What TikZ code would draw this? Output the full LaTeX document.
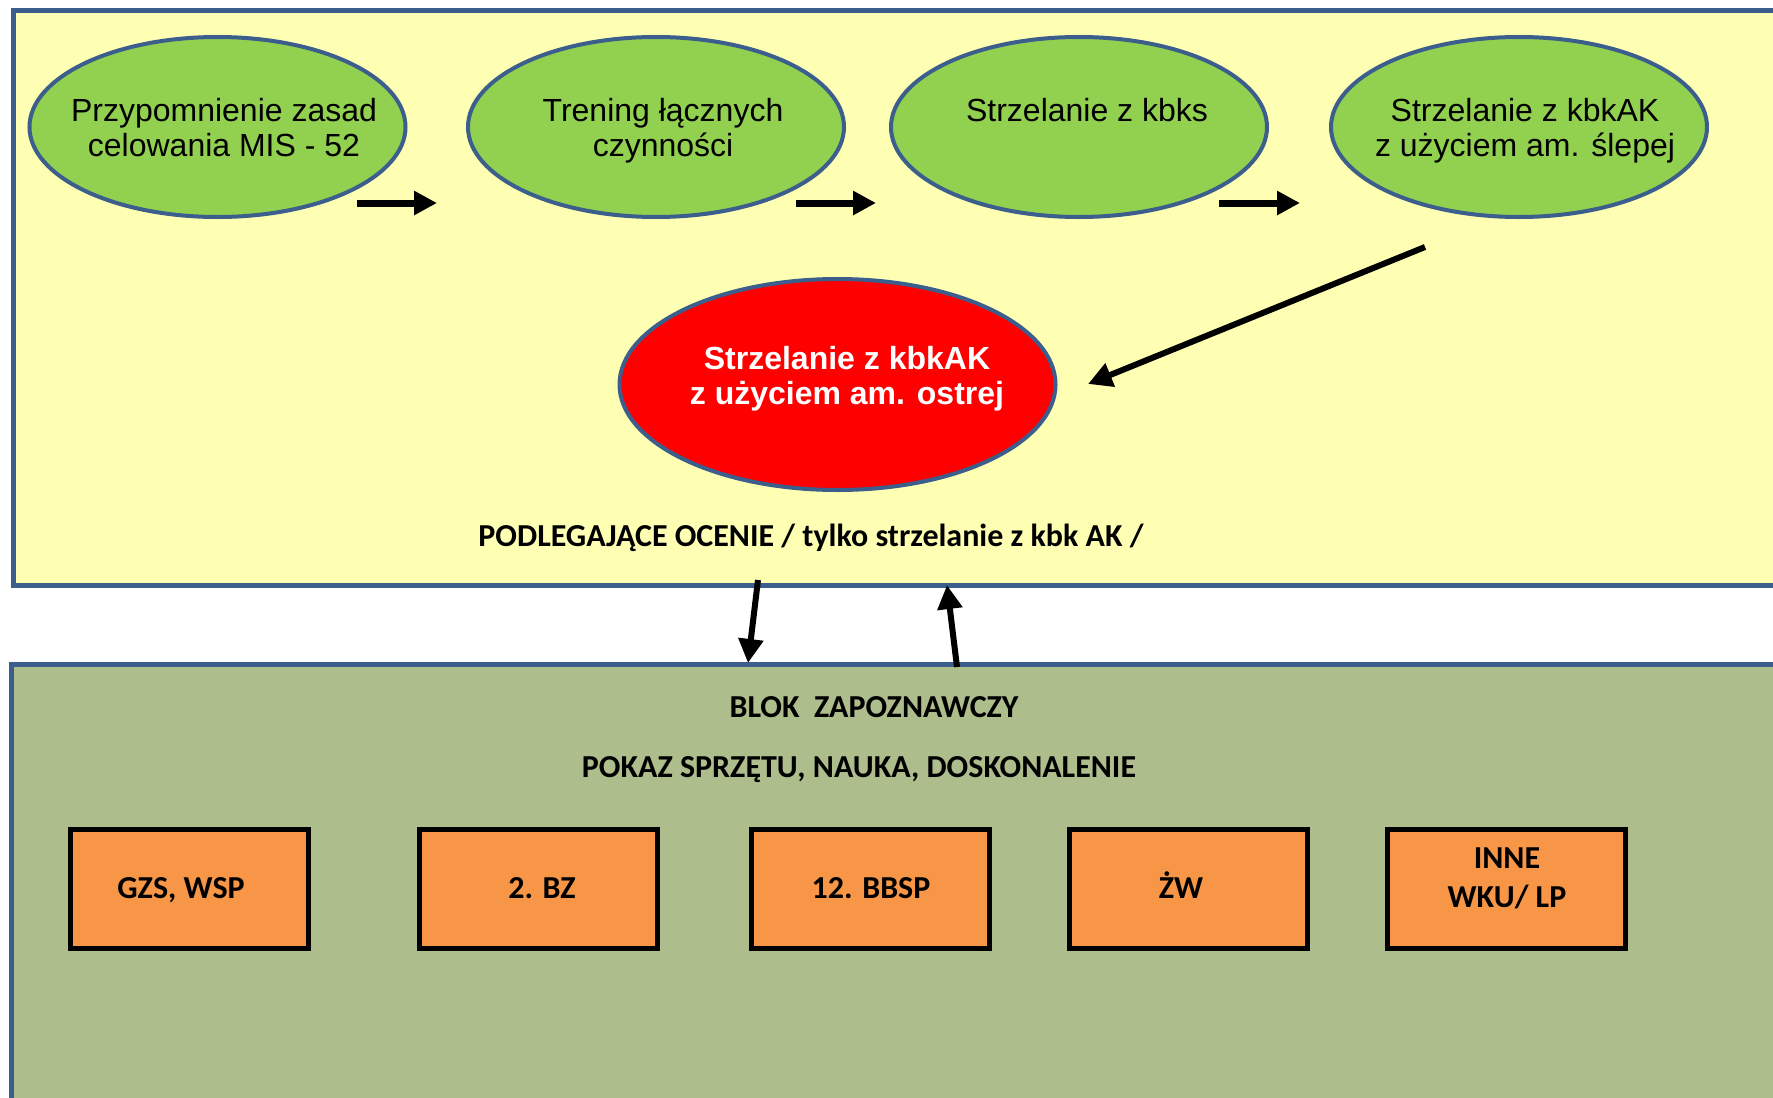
\documentclass[tikz,border=0pt]{standalone}
\usepackage{fontspec}
\setmainfont{Liberation Sans}
\newfontfamily\calibri{Carlito}
\usetikzlibrary{shapes.geometric,arrows.meta}
\definecolor{paleyellow}{HTML}{FFFFB4}
\definecolor{panelblue}{HTML}{3B5E8C}
\definecolor{ellgreen}{HTML}{92D050}
\definecolor{olivebg}{HTML}{ADBD8C}
\definecolor{boxorange}{HTML}{F79646}
\definecolor{brightred}{HTML}{FF0000}
\tikzset{
  panel/.style={draw=panelblue, line width=5pt, rectangle, inner sep=0pt, anchor=north west},
  greenell/.style={ellipse, draw=panelblue, line width=4pt, fill=ellgreen, inner sep=0pt,
    minimum width=376pt, minimum height=180pt},
  redell/.style={ellipse, draw=panelblue, line width=4pt, fill=brightred, inner sep=0pt,
    minimum width=436pt, minimum height=211pt},
  gtext/.style={align=center, inner sep=0pt, anchor=base, font=\fontsize{32}{35}\selectfont},
  rtext/.style={align=center, inner sep=0pt, anchor=base, text=white,
    font=\fontsize{32}{35}\selectfont\bfseries},
  ctext/.style={inner sep=0pt, anchor=base, align=center,
    font=\calibri\bfseries\fontsize{32}{39}\selectfont},
  obox/.style={rectangle, draw=black, line width=5pt, fill=boxorange, inner sep=0pt,
    minimum width=238pt, minimum height=119pt},
  flowarrow/.style={-{Triangle[length=24pt,width=24pt]}, line width=6pt, black},
}
\begin{document}
\begin{tikzpicture}[x=1pt,y=-1pt]
\useasboundingbox (0,0) rectangle (1773,1098);
\clip (0,0) rectangle (1773,1098);
\fill[white] (0,0) rectangle (1773,1098);

% panels
\node[panel, fill=paleyellow, minimum width=1800pt, minimum height=575pt] (top) at (10.5,8) {};
\node[panel, fill=olivebg, minimum width=1800pt, minimum height=500pt] (bottom) at (8.5,662) {};

% green ellipses
\node[greenell] (e1) at (217.5,127) {};
\node[greenell] (e2) at (656,127) {};
\node[greenell] (e3) at (1079,127) {};
\node[greenell] (e4) at (1519,127) {};
\node[gtext] (t1) at (224,156) {Przypomnienie zasad\\celowania MIS - 52};
\node[gtext] (t2) at (663,156) {Trening łącznych\\czynności};
\node[gtext] (t3) at (1087,121) {Strzelanie z kbks};
\node[gtext] (t4) at (1525,156) {Strzelanie z kbkAK\\z użyciem am. ślepej};

% red ellipse
\node[redell] (r) at (837.5,384.5) {};
\node[rtext] (rt) at (847,404) {Strzelanie z kbkAK\\z użyciem am. ostrej};

% labels
\node[ctext] (ocena) at (811,546) {PODLEGAJĄCE OCENIE / tylko strzelanie z kbk AK /};
\node[ctext] (blok) at (874,717) {BLOK\ \ ZAPOZNAWCZY};
\node[ctext] (pokaz) at (859,777) {POKAZ SPRZĘTU, NAUKA, DOSKONALENIE};

% orange boxes
\node[obox] (b1) at (189.5,889) {};
\node[obox] (b2) at (538,889) {};
\node[obox] (b3) at (870.5,889) {};
\node[obox] (b4) at (1188.5,889) {};
\node[obox] (b5) at (1506.5,889) {};
\node[ctext] (l1) at (181,898) {GZS, WSP};
\node[ctext] (l2) at (542,898) {2. BZ};
\node[ctext] (l3) at (871,898) {12. BBSP};
\node[ctext] (l4) at (1181,898) {ŻW};
\node[ctext] (l5) at (1507,907) {INNE\\WKU/ LP};

% arrow end points
\coordinate (a1s) at (357,203); \coordinate (a1e) at (437,203);
\coordinate (a2s) at (796,203); \coordinate (a2e) at (876,203);
\coordinate (a3s) at (1219,203); \coordinate (a3e) at (1300,203);
\coordinate (a4s) at (1425,247); \coordinate (a4e) at (1088,384);
\coordinate (a5s) at (758,580); \coordinate (a5e) at (748,663);
\coordinate (a6s) at (957,667); \coordinate (a6e) at (947,585);

\draw[flowarrow, line width=7pt, -{Triangle[length=23pt,width=23pt]}] (a1s) -- (a1e);
\draw[flowarrow, line width=7pt, -{Triangle[length=23pt,width=23pt]}] (a2s) -- (a2e);
\draw[flowarrow, line width=7pt, -{Triangle[length=23pt,width=23pt]}] (a3s) -- (a3e);
\draw[flowarrow] (a4s) -- (a4e);
\draw[flowarrow] (a5s) -- (a5e);
\draw[flowarrow] (a6s) -- (a6e);
\end{tikzpicture}
\end{document}
